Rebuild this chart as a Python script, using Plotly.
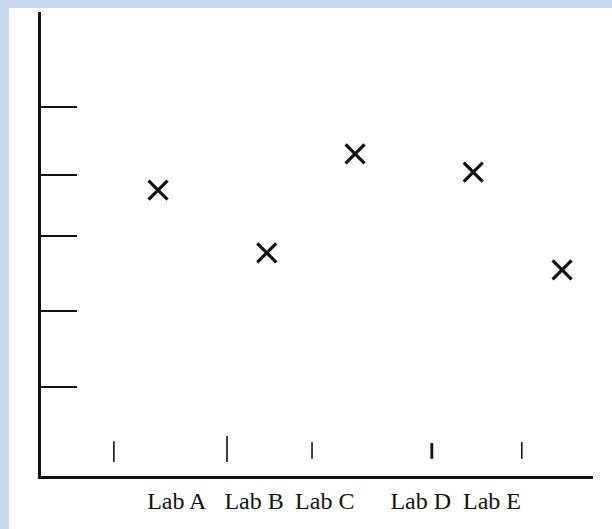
import plotly.graph_objects as go

# ---- data ----
labs = ["Lab A", "Lab B", "Lab C", "Lab D", "Lab E"]
label_pos = [2.46, 3.86, 5.14, 6.88, 8.17]          # x positions of the lab labels
point_x = [2.12, 4.09, 5.69, 7.83, 9.44]            # x position of each lab's result
point_y = [6.16, 4.81, 6.94, 6.55, 4.44]            # each lab's result
y_ticks = [1.92, 3.56, 5.18, 6.49, 7.96]            # y-axis tick marks (unlabelled)
mark_x = [1.32, 3.37, 4.91, 7.08, 8.71]             # short vertical marks above the x axis
mark_low = [0.30, 0.30, 0.37, 0.37, 0.37]
mark_high = [0.75, 0.86, 0.73, 0.71, 0.73]

W, H = 612, 529
L, R, T, B = 41, 19, 12, 53
pw, ph = W - L - R, H - T - B

fig = go.Figure()

# short vertical marks above the x axis
mark_widths = [1.6, 1.6, 1.6, 2.8, 1.6]
for x, lo, hi, w in zip(mark_x, mark_low, mark_high, mark_widths):
    fig.add_trace(go.Scatter(x=[x, x], y=[lo, hi], mode="lines",
                             line=dict(color="#111111", width=w),
                             hoverinfo="skip", showlegend=False))

# results
fig.add_trace(go.Scatter(x=point_x, y=point_y, mode="markers",
                         marker=dict(symbol="x-thin", size=19,
                                     line=dict(color="#111111", width=3.2)),
                         showlegend=False))

# blue frame on top and left edges: white sheet placed over blue paper
fig.add_shape(type="rect", xref="paper", yref="paper", layer="below",
              x0=(9 - L) / pw, x1=(W + 20 - L) / pw,
              y0=-(H + 20 - T - ph) / ph, y1=(T + ph - 8) / ph,
              fillcolor="white", line=dict(width=0))

fig.update_layout(
    width=W, height=H,
    margin=dict(l=L, r=R, t=T, b=B, pad=0),
    paper_bgcolor="#c6d9f1",
    plot_bgcolor="white",
    showlegend=False,
    xaxis=dict(range=[0, 10], showgrid=False, zeroline=False,
               showline=True, linecolor="#111111", linewidth=2.6,
               ticks="", tickvals=label_pos, ticktext=labs,
               tickfont=dict(family="Liberation Serif", size=24, color="#111111"),
               ticklabelstandoff=1),
    yaxis=dict(range=[0, 10], showgrid=False, zeroline=False,
               showline=True, linecolor="#111111", linewidth=2.6,
               ticks="inside", ticklen=36, tickwidth=2, tickcolor="#111111",
               tickvals=y_ticks, showticklabels=False),
)

fig.write_html("out.html",
               config={"displayModeBar": False},
               post_script="document.body.style.margin='0';document.body.style.overflow='hidden';")
